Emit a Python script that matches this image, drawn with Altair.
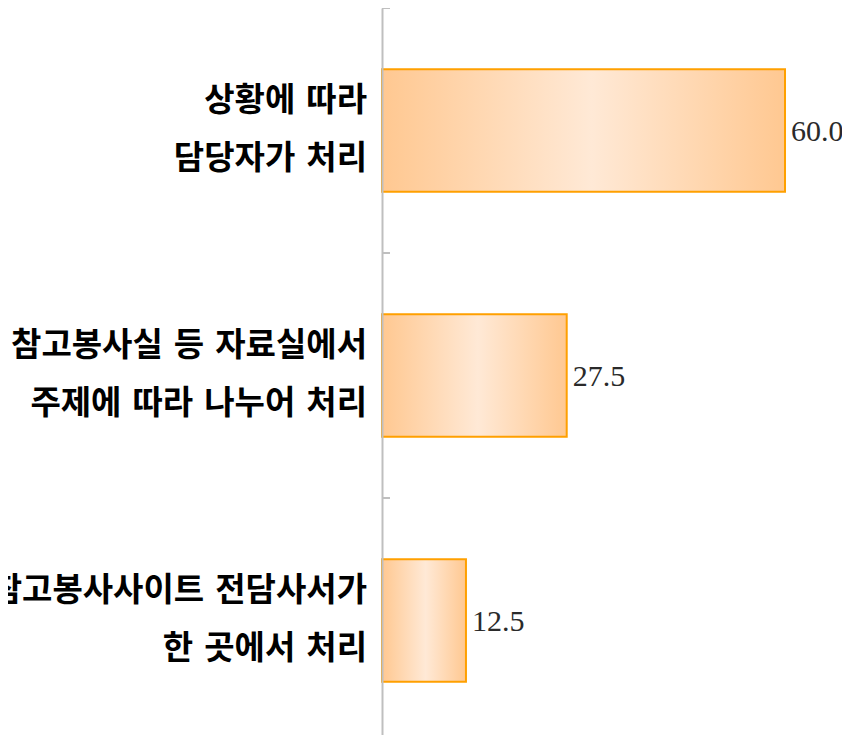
import altair as alt
import pandas as pd

categories = [
    "상황에 따라\n담당자가 처리",
    "참고봉사실 등 자료실에서\n주제에 따라 나누어 처리",
    "참고봉사사이트 전담사서가\n한 곳에서 처리",
]
values = [60.0, 27.5, 12.5]
value_labels = ["60.0", "27.5", "12.5"]

df = pd.DataFrame({
    "cat": categories,
    "value": values,
    "label": value_labels,
    # wider word gap, as in the reference font
    "shown": [c.replace(" ", "\u2004") for c in categories],
})

yscale = alt.Scale(paddingInner=0.5, paddingOuter=0.25, range=[0, 735])
yenc = alt.Y(
    "cat:N",
    sort=categories,
    scale=yscale,
    axis=alt.Axis(
        labels=False, ticks=False, domain=True, domainColor="#BFBFBF",
        domainWidth=2, title=None, zindex=1, grid=False,
    ),
)
xenc = alt.X("value:Q", scale=alt.Scale(domain=[0, 60], nice=False), axis=None)

base = alt.Chart(df)

grad = alt.Gradient(
    gradient="linear",
    stops=[
        alt.GradientStop(color="#FFC891", offset=0),
        alt.GradientStop(color="#FFE9D6", offset=0.52),
        alt.GradientStop(color="#FFC891", offset=1),
    ],
    x1=0, x2=1, y1=0, y2=0,
)

bars = base.mark_bar(fill=grad, stroke="#FFA000", strokeWidth=2).encode(
    y=yenc, x=xenc
)

vals = base.mark_text(
    align="left", baseline="middle", dx=6, dy=1, font="Liberation Serif",
    fontSize=30, color="#2a2a2a",
).encode(y=yenc, x=xenc, text="label:N")

cat_labels = base.mark_text(
    align="right", baseline="middle", font="Noto Sans CJK KR",
    fontWeight="bold", fontSize=33, lineHeight=58, lineBreak="\n",
    dy=-30, color="#000000",
).encode(y=yenc, x=alt.value(-15), text="shown:N")

ticks = base.mark_rule(color="#BFBFBF", strokeWidth=2, yOffset=-61.25).encode(
    y=alt.Y("cat:N", sort=categories, scale=yscale, bandPosition=0),
    x=alt.value(0),
    x2=alt.value(8),
)

chart = (
    alt.layer(bars, ticks, vals, cat_labels)
    .properties(
        width=403,
        height=727,
        autosize=alt.AutoSizeParams(type="none"),
        padding={"left": 374, "top": 0, "right": 57, "bottom": 0},
    )
    .configure_view(stroke=None)
)

chart.save("out.html", embed_options={"renderer": "svg", "actions": False})
